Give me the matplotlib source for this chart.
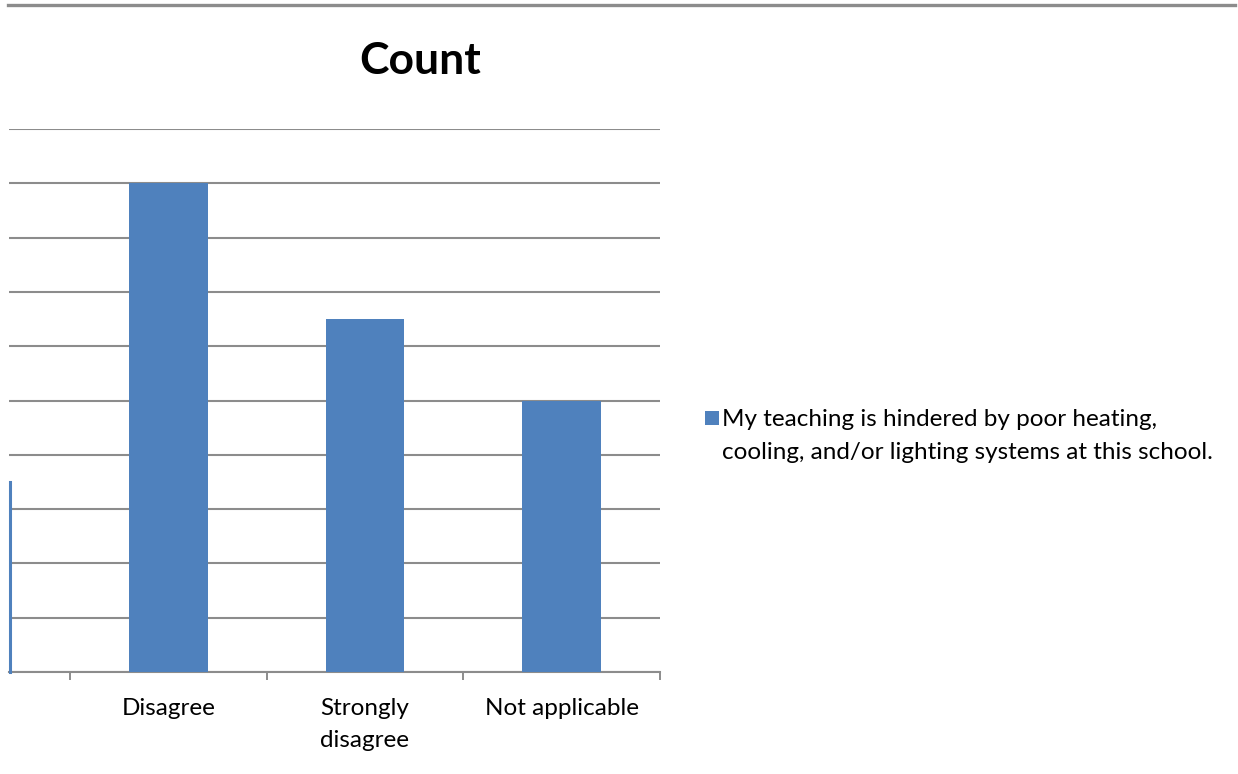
import matplotlib.pyplot as plt
from matplotlib.lines import Line2D
from matplotlib.patches import Rectangle

categories = ['Disagree', 'Strongly\ndisagree', 'Not applicable']
counts = [9, 6.5, 5]
series_name = 'My teaching is hindered by poor heating,\ncooling, and/or lighting systems at this school.'

bar_color = '#4F81BD'
grid_color = '#8C8C8C'

plt.rcParams['font.family'] = ['Lato', 'DejaVu Sans']

W, H = 1238, 774
fig = plt.figure(figsize=(W / 100, H / 100), dpi=100)
ax = fig.add_axes([9 / W, 1 - 672 / H, (660 - 9) / W, (672 - 129) / H])

x = list(range(len(categories)))
bars = ax.bar(x, counts, width=0.40, color=bar_color, zorder=3, label=series_name)

ax.set_ylim(0, 10)
ax.set_xlim(-0.81, 2.5)
ax.set_yticks(range(0, 11))
ax.yaxis.set_ticks_position('none')
ax.set_yticklabels([])
ax.grid(axis='y', color=grid_color, linewidth=1.5, zorder=0)

ax.set_xticks([-0.5, 0.5, 1.5, 2.5])
ax.set_xticklabels([])
ax.tick_params(axis='x', direction='out', length=6, width=1.4, color=grid_color)
ax.set_xticks(x, minor=True)
ax.set_xticklabels(categories, minor=True, fontsize=17.5, linespacing=1.6, va='top')
ax.tick_params(axis='x', which='minor', length=0, pad=19)

for side in ['top', 'right', 'left']:
    ax.spines[side].set_visible(False)
ax.spines['bottom'].set_color(grid_color)
ax.spines['bottom'].set_linewidth(1.5)

fig.text(420 / W, 1 - 61 / H, 'Count', fontsize=32, fontweight='bold', ha='center', va='center')

# legend: square key plus the series name, first line level with the key
fig.add_artist(Rectangle((705 / W, 1 - 425 / H), 14 / W, 14 / H, transform=fig.transFigure,
                         facecolor=bar_color, edgecolor='none'))
fig.text(722 / W, 1 - 409 / H, series_name, fontsize=17.5, ha='left', va='top', linespacing=1.72)

# decorations at the page edges
fig.add_artist(Line2D([8 / W, 1235 / W], [1 - 5 / H, 1 - 5 / H], color='#8C8C8C', linewidth=2.4))
fig.add_artist(Line2D([9.5 / W, 9.5 / W], [1 - 672 / H, 1 - 482 / H], color=bar_color, linewidth=2.2))

fig.savefig('out.png', dpi=100)
